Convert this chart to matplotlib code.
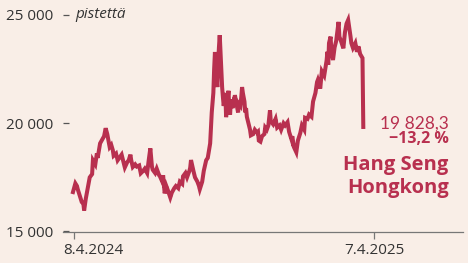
import matplotlib.pyplot as plt
from matplotlib.transforms import blended_transform_factory

# Hang Seng index, days since 8.4.2024 and closing values
days = [0, 3, 5, 6, 9, 11, 13, 14, 16, 19, 21, 24, 25, 28, 30, 31, 34, 36, 39, 41,
        43, 44, 46, 48, 50, 51, 54, 56, 59, 61, 64, 65, 68, 70, 72, 73, 75, 78, 80, 83,
        85, 88, 90, 93, 95, 97, 99, 100, 103, 105, 108, 109, 112, 113, 115, 117, 119, 122, 124, 127,
        129, 132, 134, 137, 138, 141, 143, 146, 147, 148, 151, 153, 156, 158, 159, 162, 164, 167, 169, 172,
        173, 174, 176, 177, 178, 179, 181, 182, 183, 184, 186, 187, 188, 189, 191, 192, 193, 195, 196, 197,
        198, 200, 201, 202, 203, 205, 206, 207, 208, 210, 211, 212, 213, 215, 216, 217, 218, 220, 222, 223,
        226, 228, 231, 232, 233, 235, 237, 240, 241, 243, 245, 247, 248, 251, 254, 256, 259, 261, 264, 266,
        269, 271, 274, 275, 277, 280, 282, 285, 287, 290, 291, 294, 296, 299, 301, 304, 306, 307, 310, 312,
        315, 318, 319, 320, 321, 323, 324, 326, 328, 330, 333, 334, 336, 339, 341, 343, 345, 348, 349, 351,
        354, 356, 358, 360, 363, 364]
values = [16820, 17220, 17100, 16950, 16600, 16360, 16300, 15970, 16500, 17100, 17500, 17650, 18290, 18100, 18610, 18400, 19070, 19200, 19400, 19770,
          19500, 19300, 18900, 19000, 18750, 18500, 18600, 18290, 18450, 18550, 18100, 17960, 18200, 18300, 18550, 18300, 17980, 18100, 18000, 18050,
          17690, 17800, 17900, 17700, 18300, 18840, 18000, 17850, 17700, 17900, 17600, 17550, 17300, 17600, 16760, 17100, 16900, 16570, 16800, 17000,
          17100, 17000, 17300, 17200, 17550, 17700, 17500, 17800, 17950, 18300, 17800, 17500, 17300, 17100, 16950, 17300, 17800, 18290, 18400, 19070,
          19800, 20500, 21400, 22500, 23290, 22500, 21670, 22800, 23500, 24070, 22500, 21670, 21200, 20800, 21400, 20280, 20800, 21500, 20600, 20400,
          21100, 20700, 20900, 20800, 21300, 20900, 20700, 20500, 20900, 20800, 21200, 21670, 21400, 21000, 20500, 20700, 20300, 20000, 19700, 19440,
          19500, 19700, 19560, 19600, 19200, 19150, 19400, 19500, 19800, 19700, 19900, 20600, 20100, 19950, 20200, 19800, 19900, 19700, 20000, 19900,
          20050, 19600, 19250, 19400, 18900, 18660, 19200, 19550, 19900, 19700, 20250, 20200, 20400, 20300, 21000, 21400, 21900, 22000, 21600, 22400,
          22200, 22900, 23300, 22700, 23700, 24000, 23300, 22920, 23500, 23800, 24680, 24000, 23800, 23460, 24200, 24600, 24770, 24000, 23700, 23480,
          23700, 23300, 23550, 23200, 23010, 19828.3]

tick_days = [1, 378]
tick_labels = ['8.4.2024', '7.4.2025']
y_ticks = [15000, 20000, 25000]
y_labels = ['15 000', '20 000', '25 000']

bg = '#f9eee7'
red = '#b8304f'
dark = '#333333'

fig = plt.figure(figsize=(4.68, 2.63), dpi=100, facecolor=bg)
ax = fig.add_axes([63 / 468, 1 - 231.5 / 263, 400 / 468, 221.5 / 263])
ax.set_facecolor(bg)

ax.plot(days, values, color=red, lw=2.9, solid_joinstyle='miter')

ax.set_xlim(-12.5, 489)
ax.set_ylim(15000, 25230)

for s in ['top', 'right', 'left']:
    ax.spines[s].set_visible(False)
ax.spines['bottom'].set_color('#777777')
ax.spines['bottom'].set_linewidth(0.9)

ax.set_yticks(y_ticks)
ax.set_yticklabels(y_labels, fontfamily='Open Sans', fontsize=11, color=dark)
ax.tick_params(axis='y', direction='in', length=4, width=0.9, color='#555555', pad=7)
ax.set_xticks(tick_days)
ax.set_xticklabels([])
ax.tick_params(axis='x', direction='out', length=5, width=0.9, color='#777777')

tr = blended_transform_factory(ax.transData, ax.transAxes)
ax.text(-12.5, -0.05, tick_labels[0], transform=tr, ha='left', va='top',
        fontfamily='Open Sans', fontsize=11, color=dark)
ax.text(tick_days[1], -0.05, tick_labels[1], transform=tr, ha='center', va='top',
        fontfamily='Open Sans', fontsize=11, color=dark)

ax.text(3, 25000, 'pistettä', ha='left', va='center', fontfamily='Open Sans',
        fontstyle='italic', fontsize=11, color=dark)

ax.text(471, 19771, '19 828,3', ha='right', va='baseline', fontfamily='Lato',
        fontweight='normal', fontsize=12.5, color=red)
ax.text(471, 19080, '−13,2 %', ha='right', va='baseline', fontfamily='Open Sans',
        fontweight='bold', fontsize=11.5, color=red)
ax.text(471, 17835, 'Hang Seng', ha='right', va='baseline', fontfamily='Open Sans',
        fontweight='bold', fontsize=14.5, color=red)
ax.text(471, 16775, 'Hongkong', ha='right', va='baseline', fontfamily='Open Sans',
        fontweight='bold', fontsize=14.5, color=red)

fig.savefig('out.png', dpi=100, facecolor=bg)
